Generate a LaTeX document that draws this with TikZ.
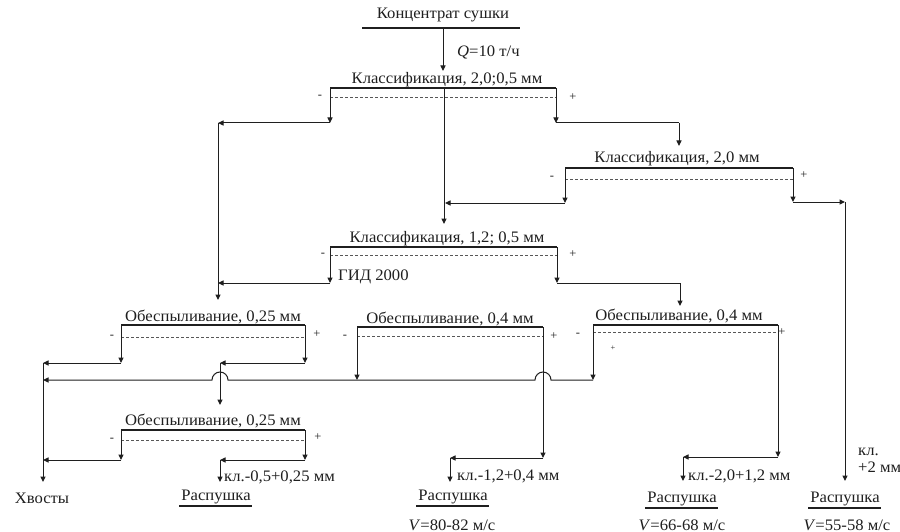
\documentclass[tikz,border=0pt]{standalone}
\usepackage{fontspec}
\setmainfont{Liberation Serif}[FakeStretch=1.04]
\usetikzlibrary{arrows.meta}
\definecolor{ink}{gray}{0.12}

\begin{document}
\begin{tikzpicture}[x=1pt,y=-1pt,
  font=\fontsize{16}{18}\selectfont,
  every node/.style={text=ink, inner sep=0pt},
  line/.style={draw=ink, line width=1pt},
  flow/.style={draw=ink, line width=1pt, -{Triangle[length=5.5pt,width=5pt]}},
  screen/.style={draw=ink, line width=2.6pt},
  mesh/.style={draw=ink!75, line width=0.8pt, dash pattern=on 3pt off 2pt},
  title/.style={anchor=base},
  sign/.style={font=\fontsize{12}{13}\selectfont},
  note/.style={anchor=west},
  product/.style={},
  bar/.style={draw=ink, line width=1.8pt},
]
\useasboundingbox[fill=white] (0,0) rectangle (900,532);

% ---------- feed ----------
\node (src) at (443,15) {Концентрат сушки};
\coordinate (srcL) at (362,28);
\coordinate (srcR) at (520,28);
\draw[bar] (srcL) -- (srcR);
\coordinate (srcB) at (443,28);
\coordinate (c1in) at (443,71);
\draw[flow] (srcB) -- (c1in);
\node[anchor=west] (q) at (457,52) {\textit{Q}=10 т/ч};

% ---------- classification 2,0;0,5 ----------
\coordinate (c1L) at (330,88);
\coordinate (c1R) at (556,88);
\coordinate (c1M) at (444,88);
\node[title] (c1t) at (447,84) {Классификация, 2,0;0,5 мм};
\draw[screen] (c1L) -- (c1R);
\coordinate (c1dL) at (330,97);
\coordinate (c1dR) at (556,97);
\draw[mesh] (c1dL) -- (c1dR);
\node[sign] (c1minus) at (320,97) {-};
\node[sign] (c1plus) at (573,97) {+};

% undersize
\coordinate (c1a) at (330,123);
\coordinate (c1b) at (218,123);
\coordinate (dAin) at (218,300);
\draw[flow] (c1L) -- (c1a);
\draw[flow] (c1a) -- (c1b);
\draw[flow] (c1b) -- (dAin);
% oversize
\coordinate (c1c) at (556,123);
\coordinate (c1d) at (679,123);
\coordinate (c2in) at (679,146);
\draw[flow] (c1R) -- (c1c);
\draw[line] (c1c) -- (c1d);
\draw[flow] (c1d) -- (c2in);
% middlings
\coordinate (c3in) at (444,224);
\draw[flow] (c1M) -- (c3in);

% ---------- classification 2,0 ----------
\coordinate (c2L) at (565,168);
\coordinate (c2R) at (793,168);
\node[title] (c2t) at (677,163) {Классификация, 2,0 мм};
\draw[screen] (c2L) -- (c2R);
\coordinate (c2dL) at (565,179);
\coordinate (c2dR) at (793,179);
\draw[mesh] (c2dL) -- (c2dR);
\node[sign] (c2minus) at (552,178) {-};
\node[sign] (c2plus) at (804,175) {+};

\coordinate (c2a) at (565,203);
\coordinate (c2b) at (445,203);
\draw[flow] (c2L) -- (c2a);
\draw[flow] (c2a) -- (c2b);
\coordinate (c2c) at (793,202);
\coordinate (c2d) at (845,202);
\coordinate (p4in) at (845,481);
\draw[flow] (c2R) -- (c2c);
\draw[flow] (c2c) -- (c2d);
\draw[flow] (c2d) -- (p4in);
\node[note] (p4k) at (858,452) {кл.};
\node[note] (p4s) at (858,467) {+2 мм};

% ---------- classification 1,2; 0,5 ----------
\coordinate (c3L) at (330,247);
\coordinate (c3R) at (557,247);
\node[title] (c3t) at (447,242) {Классификация, 1,2; 0,5 мм};
\draw[screen] (c3L) -- (c3R);
\coordinate (c3dL) at (330,255);
\coordinate (c3dR) at (557,255);
\draw[mesh] (c3dL) -- (c3dR);
\node[sign] (c3minus) at (323,255) {-};
\node[sign] (c3plus) at (573,254) {+};

\coordinate (c3a) at (330,283);
\coordinate (c3b) at (218,283);
\draw[flow] (c3L) -- (c3a);
\draw[flow] (c3a) -- (c3b);
\node[anchor=west] (gid) at (338,277) {ГИД 2000};
\coordinate (c3c) at (557,283);
\coordinate (c3d) at (680,283);
\coordinate (dCin) at (680,306);
\draw[flow] (c3R) -- (c3c);
\draw[line] (c3c) -- (c3d);
\draw[flow] (c3d) -- (dCin);

% ---------- dedusting 0,25 (upper) ----------
\coordinate (dAL) at (121,325);
\coordinate (dAR) at (305,325);
\node[title] (dAt) at (213,321) {Обеспыливание, 0,25 мм};
\draw[screen] (dAL) -- (dAR);
\coordinate (dAdL) at (121,337);
\coordinate (dAdR) at (305,337);
\draw[mesh] (dAdL) -- (dAdR);
\node[sign] (dAminus) at (112,337) {-};
\node[sign] (dAplus) at (317,334) {+};

\coordinate (dAa) at (121,363);
\coordinate (tailTop) at (43,363);
\draw[flow] (dAL) -- (dAa);
\draw[flow] (dAa) -- (tailTop);
\coordinate (dAb) at (305,363);
\coordinate (dAc) at (220,363);
\coordinate (dDin) at (220,405);
\draw[flow] (dAR) -- (dAb);
\draw[flow] (dAb) -- (dAc);
\draw[flow] (dAc) -- (dDin);

% ---------- dedusting 0,4 (middle) ----------
\coordinate (dBL) at (357,327);
\coordinate (dBR) at (543,327);
\node[title] (dBt) at (450,323) {Обеспыливание, 0,4 мм};
\draw[screen] (dBL) -- (dBR);
\coordinate (dBdL) at (357,336);
\coordinate (dBdR) at (543,336);
\draw[mesh] (dBdL) -- (dBdR);
\node[sign] (dBminus) at (345,337) {-};
\node[sign] (dBplus) at (554,336) {+};

\coordinate (dBa) at (357,380);
\draw[flow] (dBL) -- (dBa);
\coordinate (dBb) at (543,458);
\coordinate (dBc) at (450,458);
\coordinate (p2in) at (450,482);
\draw[flow] (dBR) -- (dBb);
\draw[flow] (dBb) -- (dBc);
\draw[flow] (dBc) -- (p2in);
\node[note] (p2k) at (457,476) {кл.-1,2+0,4 мм};

% ---------- dedusting 0,4 (right) ----------
\coordinate (dCL) at (593,325);
\coordinate (dCR) at (778,325);
\node[title] (dCt) at (679,320) {Обеспыливание, 0,4 мм};
\draw[screen] (dCL) -- (dCR);
\coordinate (dCdL) at (593,332);
\coordinate (dCdR) at (778,332);
\draw[mesh] (dCdL) -- (dCdR);
\node[sign] (dCminus) at (578,335) {-};
\node[sign] (dCplus) at (782,332) {+};
\node[font=\fontsize{8}{9}\selectfont] (dCstray) at (613,348) {+};

\coordinate (dCa) at (593,380);
\draw[flow] (dCL) -- (dCa);
\coordinate (tailMid) at (43,380);
% slimes collector, hopping over the two crossing streams
\draw[flow] (dCa) -- (551,380) arc[start angle=0, end angle=-180, radius=8]
  -- (228,380) arc[start angle=0, end angle=-180, radius=8] -- (tailMid);
\coordinate (dCb) at (778,457);
\coordinate (dCc) at (683,457);
\coordinate (p3in) at (683,481);
\draw[flow] (dCR) -- (dCb);
\draw[flow] (dCb) -- (dCc);
\draw[flow] (dCc) -- (p3in);
\node[note] (p3k) at (688,476) {кл.-2,0+1,2 мм};

% ---------- dedusting 0,25 (lower) ----------
\coordinate (dDL) at (121,430);
\coordinate (dDR) at (305,430);
\node[title] (dDt) at (213,425) {Обеспыливание, 0,25 мм};
\draw[screen] (dDL) -- (dDR);
\coordinate (dDdL) at (121,440);
\coordinate (dDdR) at (305,440);
\draw[mesh] (dDdL) -- (dDdR);
\node[sign] (dDminus) at (112,440) {-};
\node[sign] (dDplus) at (318,437) {+};

\coordinate (dDa) at (121,460);
\coordinate (tailLow) at (43,460);
\draw[flow] (dDL) -- (dDa);
\draw[flow] (dDa) -- (tailLow);
\coordinate (dDb) at (305,460);
\coordinate (dDc) at (220,460);
\coordinate (p1in) at (220,482);
\draw[flow] (dDR) -- (dDb);
\draw[flow] (dDb) -- (dDc);
\draw[flow] (dDc) -- (p1in);
\node[note] (p1k) at (224,477) {кл.-0,5+0,25 мм};

% ---------- tailings ----------
\coordinate (tailEnd) at (43,482);
\draw[flow] (tailTop) -- (tailEnd);
\node (tails) at (42,498) {Хвосты};

% ---------- products, each underlined by a heavy rule ----------
\node[product] (p1) at (216,497) {Распушка};
\node[product] (p2) at (453,497) {Распушка};
\node[product] (p3) at (682,499) {Распушка};
\node[product] (p4) at (845,499) {Распушка};
\foreach \p in {p1,p2,p3,p4}
  \draw[bar] ([xshift=-2pt,yshift=-2pt]\p.south west) -- ([xshift=1pt,yshift=-2pt]\p.south east);
\node (v2) at (452,525) {\textit{V}=80-82 м/с};
\node (v3) at (682,525) {\textit{V}=66-68 м/с};
\node (v4) at (847,525) {\textit{V}=55-58 м/с};
\end{tikzpicture}
\end{document}
